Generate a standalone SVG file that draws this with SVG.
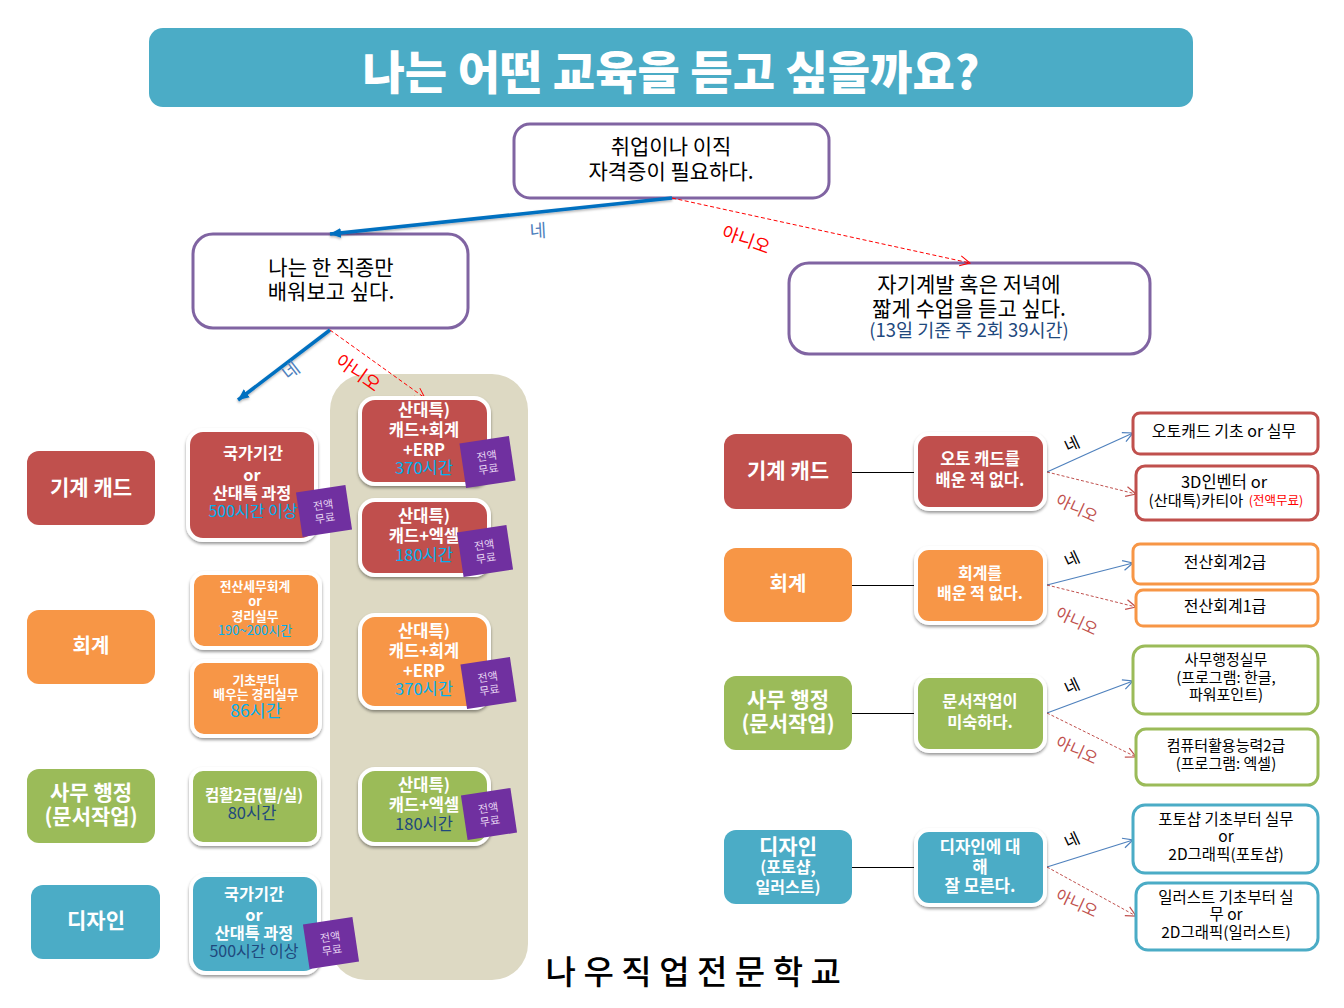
<svg xmlns="http://www.w3.org/2000/svg" width="1344" height="1008" viewBox="0 0 1344 1008">
<style>
text{font-family:"Noto Sans CJK KR","Noto Sans",sans-serif;text-anchor:middle}
.w{fill:#fff;font-weight:700}
.k{fill:#000;font-weight:400}
.sky{fill:#00B0F0;font-weight:400}
.navy{fill:#1F497D;font-weight:400}
.card{stroke:#fff;stroke-width:4;filter:url(#sh)}
.red{fill:#C0504D}.org{fill:#F79646}.grn{fill:#9BBB59}.blu{fill:#4BACC6}
.q{fill:#fff;stroke:#8064A2;stroke-width:3}
.res{fill:#fff;stroke-width:3}
.badge{fill:#7030A0}
.bt{fill:#E6D5F2;font-size:11px;font-weight:400}
.yes{stroke:#4F81BD;stroke-width:1.2;fill:none;marker-end:url(#oa-b)}
.no{stroke:#C0504D;stroke-width:1;stroke-dasharray:3 2;fill:none;marker-end:url(#oa-r)}
.thick{stroke:#0070C0;stroke-width:3.5;fill:none;marker-end:url(#fa);filter:url(#sl)}
.rd{stroke:#FF0000;stroke-width:1;stroke-dasharray:4 2.5;fill:none;marker-end:url(#oa-rr)}
.lk{stroke:#000;stroke-width:1;fill:none}
</style>
<defs>
<filter id="sh" x="-10%" y="-10%" width="120%" height="125%"><feDropShadow dx="0" dy="2" stdDeviation="1.5" flood-color="#000" flood-opacity=".4"/></filter>
<filter id="sl" x="-10%" y="-30%" width="120%" height="160%"><feDropShadow dx="0" dy="1.5" stdDeviation="1" flood-color="#000" flood-opacity=".3"/></filter>
<marker id="oa-b" markerUnits="userSpaceOnUse" markerWidth="14" markerHeight="14" refX="11" refY="6" orient="auto"><path d="M1 1L11 6L1 11" fill="none" stroke="#4F81BD" stroke-width="1.2"/></marker>
<marker id="oa-r" markerUnits="userSpaceOnUse" markerWidth="14" markerHeight="14" refX="11" refY="6" orient="auto"><path d="M1 1L11 6L1 11" fill="none" stroke="#C0504D" stroke-width="1.2"/></marker>
<marker id="oa-rr" markerUnits="userSpaceOnUse" markerWidth="14" markerHeight="14" refX="11" refY="6" orient="auto"><path d="M1 1L11 6L1 11" fill="none" stroke="#FF0000" stroke-width="1"/></marker>
<marker id="fa" markerUnits="userSpaceOnUse" markerWidth="14" markerHeight="12" refX="11" refY="5" orient="auto"><path d="M0 0L11 5L0 10Z" fill="#0070C0"/></marker>
</defs>

<rect id="panel" x="330" y="374" width="198" height="606" rx="36" fill="#DDD9C3"/>

<g id="title"><rect x="149" y="28" width="1044" height="79" rx="14" fill="#4BACC6"/>
<text x="671" y="89" class="w" style="font-weight:900" font-size="46">나는 어떤 교육을 듣고 싶을까요?</text></g>

<g id="q1"><rect class="q" x="514" y="124" width="315" height="74" rx="16"/>
<text class="k" font-size="21"><tspan x="671" y="154">취업이나 이직</tspan><tspan x="671" y="179">자격증이 필요하다.</tspan></text></g>
<g id="q2"><rect class="q" x="193" y="234" width="275" height="94" rx="20"/>
<text class="k" font-size="21"><tspan x="331" y="275">나는 한 직종만</tspan><tspan x="331" y="299">배워보고 싶다.</tspan></text></g>
<g id="q3"><rect class="q" x="789" y="263" width="361" height="91" rx="20"/>
<text class="k" font-size="21"><tspan x="969" y="292">자기계발 혹은 저녁에</tspan><tspan x="969" y="316">짧게 수업을 듣고 싶다.</tspan></text>
<text x="969" y="337" font-size="18.5" class="navy">(13일 기준 주 2회 39시간)</text></g>

<g id="connectors">
<line class="thick" x1="672" y1="198" x2="330" y2="234"/>
<line class="rd" x1="672" y1="198" x2="970" y2="263"/>
<line class="thick" x1="330" y1="330" x2="238" y2="400"/>
<line class="rd" x1="330" y1="330" x2="425" y2="398"/>
<line class="lk" x1="852" y1="472.5" x2="915" y2="472.5"/>
<line class="lk" x1="852" y1="585.5" x2="915" y2="585.5"/>
<line class="lk" x1="852" y1="713.5" x2="915" y2="713.5"/>
<line class="lk" x1="852" y1="867.5" x2="915" y2="867.5"/>
<line class="yes" x1="1047" y1="472" x2="1133" y2="433"/>
<line class="no" x1="1047" y1="472" x2="1136" y2="494"/>
<line class="yes" x1="1047" y1="585" x2="1133" y2="563"/>
<line class="no" x1="1047" y1="585" x2="1136" y2="607"/>
<line class="yes" x1="1047" y1="713" x2="1133" y2="681"/>
<line class="no" x1="1047" y1="713" x2="1136" y2="757"/>
<line class="yes" x1="1047" y1="867" x2="1133" y2="840"/>
<line class="no" x1="1047" y1="867" x2="1136" y2="916"/>
</g>

<g id="edge-labels">
<text x="538" y="237" font-size="18" fill="#4F81BD" transform="rotate(-3 538 231)">네</text>
<text x="746" y="246" font-size="18" fill="#FF0000" transform="rotate(20 746 240)">아니오</text>
<text x="291" y="377" font-size="18" fill="#4F81BD" transform="rotate(-38 291 371)">네</text>
<text x="358" y="379" font-size="18" fill="#FF0000" transform="rotate(35 358 373)">아니오</text>
<text x="1072" y="450" font-size="16" transform="rotate(-25 1072 444)">네</text>
<text x="1077" y="514" font-size="16" fill="#C0504D" transform="rotate(25 1077 508)">아니오</text>
<text x="1072" y="565" font-size="16" transform="rotate(-25 1072 559)">네</text>
<text x="1077" y="627" font-size="16" fill="#C0504D" transform="rotate(25 1077 621)">아니오</text>
<text x="1072" y="692" font-size="16" transform="rotate(-25 1072 686)">네</text>
<text x="1077" y="756" font-size="16" fill="#C0504D" transform="rotate(25 1077 750)">아니오</text>
<text x="1072" y="846" font-size="16" transform="rotate(-25 1072 840)">네</text>
<text x="1077" y="909" font-size="16" fill="#C0504D" transform="rotate(25 1077 903)">아니오</text>
</g>

<g id="cat-l1"><rect class="red" x="27" y="451" width="128" height="74" rx="12"/><text class="w" x="91" y="495" font-size="21">기계 캐드</text></g>
<g id="cat-l2"><rect class="org" x="27" y="610" width="128" height="74" rx="12"/><text class="w" x="91" y="653" font-size="20">회계</text></g>
<g id="cat-l3"><rect class="grn" x="27" y="769" width="128" height="74" rx="12"/><text class="w" font-size="21"><tspan x="91" y="800">사무 행정</tspan><tspan x="91" y="824">(문서작업)</tspan></text></g>
<g id="cat-l4"><rect class="blu" x="31" y="885" width="129" height="74" rx="12"/><text class="w" x="96" y="928" font-size="21">디자인</text></g>

<g id="c1"><rect class="card red" x="188" y="430" width="128" height="110" rx="15"/>
<text class="w" font-size="16.3"><tspan x="253" y="459">국가기간</tspan><tspan x="252" y="481">or</tspan><tspan x="252" y="499">산대특 과정</tspan></text><text class="sky" x="253" y="517" font-size="16">500시간 이상</text></g>
<g id="b1" transform="rotate(-8.5 324 511)"><rect class="badge" x="299" y="488.5" width="50" height="45"/><text class="bt"><tspan x="324" y="509">전액</tspan><tspan x="324" y="522">무료</tspan></text></g>

<g id="c2"><rect class="card org" x="192" y="573" width="128" height="75" rx="12"/>
<text class="w" font-size="12.8"><tspan x="255" y="591">전산세무회계</tspan><tspan x="255" y="606">or</tspan><tspan x="255" y="621">경리실무</tspan></text><text class="sky" x="255" y="635" font-size="13">190~200시간</text></g>
<g id="c3"><rect class="card org" x="192" y="661" width="128" height="75" rx="12"/>
<text class="w" font-size="12.8"><tspan x="256" y="685">기초부터</tspan><tspan x="256" y="699">배우는 경리실무</tspan></text><text class="sky" x="256" y="717" font-size="17.5">86시간</text></g>
<g id="c4"><rect class="card grn" x="191" y="769" width="128" height="75" rx="12"/>
<text class="w" x="254" y="801" font-size="15.5">컴활2급(필/실)</text><text class="navy" x="252" y="819" font-size="16.5">80시간</text></g>
<g id="c5"><rect class="card blu" x="191" y="875" width="128" height="98" rx="15"/>
<text class="w" font-size="16.3"><tspan x="254" y="900">국가기간</tspan><tspan x="254" y="921">or</tspan><tspan x="254" y="939">산대특 과정</tspan></text><text class="navy" x="254" y="957" font-size="16">500시간 이상</text></g>
<g id="b6" transform="rotate(-8.5 331 943)"><rect class="badge" x="306" y="920.5" width="50" height="45"/><text class="bt"><tspan x="331" y="941">전액</tspan><tspan x="331" y="954">무료</tspan></text></g>

<g id="c6"><rect class="card red" x="360" y="398" width="129" height="86" rx="15"/>
<text class="w" font-size="16.5"><tspan x="424" y="416">산대특)</tspan><tspan x="424" y="436">캐드+회계</tspan><tspan x="424" y="456">+ERP</tspan></text><text class="sky" x="424" y="474" font-size="16.5">370시간</text></g>
<g id="b2" transform="rotate(-8.5 487.5 462)"><rect class="badge" x="462.500" y="439.500" width="50" height="45"/><text class="bt"><tspan x="487.500" y="460">전액</tspan><tspan x="487.500" y="473">무료</tspan></text></g>
<g id="c7"><rect class="card red" x="360" y="500" width="129" height="75" rx="15"/>
<text class="w" font-size="16.5"><tspan x="424" y="522">산대특)</tspan><tspan x="424" y="542">캐드+엑셀</tspan></text><text class="sky" x="424" y="561" font-size="16.5">180시간</text></g>
<g id="b3" transform="rotate(-8.5 485 551)"><rect class="badge" x="460" y="528.500" width="50" height="45"/><text class="bt"><tspan x="485" y="549">전액</tspan><tspan x="485" y="562">무료</tspan></text></g>
<g id="c8"><rect class="card org" x="360" y="615" width="129" height="93" rx="15"/>
<text class="w" font-size="16.5"><tspan x="424" y="637">산대특)</tspan><tspan x="424" y="657">캐드+회계</tspan><tspan x="424" y="677">+ERP</tspan></text><text class="sky" x="424" y="695" font-size="16.5">370시간</text></g>
<g id="b4" transform="rotate(-8.5 488.5 683)"><rect class="badge" x="463.500" y="660.500" width="50" height="45"/><text class="bt"><tspan x="488.500" y="681">전액</tspan><tspan x="488.500" y="694">무료</tspan></text></g>
<g id="c9"><rect class="card grn" x="360" y="769" width="129" height="75" rx="15"/>
<text class="w" font-size="16.5"><tspan x="424" y="791">산대특)</tspan><tspan x="424" y="811">캐드+엑셀</tspan></text><text class="navy" x="424" y="830" font-size="16.5">180시간</text></g>
<g id="b5" transform="rotate(-8.5 489 814)"><rect class="badge" x="464" y="791.500" width="50" height="45"/><text class="bt"><tspan x="489" y="812">전액</tspan><tspan x="489" y="825">무료</tspan></text></g>

<g id="cat-r1"><rect class="red" x="724" y="434" width="128" height="75" rx="12"/><text class="w" x="788" y="478" font-size="21">기계 캐드</text></g>
<g id="cat-r2"><rect class="org" x="724" y="548" width="128" height="74" rx="12"/><text class="w" x="788" y="591" font-size="20">회계</text></g>
<g id="cat-r3"><rect class="grn" x="724" y="676" width="128" height="74" rx="12"/><text class="w" font-size="21"><tspan x="788" y="707">사무 행정</tspan><tspan x="788" y="731">(문서작업)</tspan></text></g>
<g id="cat-r4"><rect class="blu" x="724" y="830" width="128" height="74" rx="12"/><text class="w" x="788" y="854" font-size="21">디자인</text><text class="w" font-size="16"><tspan x="788" y="873">(포토샵,</tspan><tspan x="788" y="893">일러스트)</tspan></text></g>

<g id="m1"><rect class="card red" x="916" y="434" width="129" height="75" rx="13"/><text class="w" font-size="16.5"><tspan x="980" y="465">오토 캐드를</tspan><tspan x="980" y="486">배운 적 없다.</tspan></text></g>
<g id="m2"><rect class="card org" x="916" y="548" width="129" height="75" rx="13"/><text class="w" font-size="16"><tspan x="980" y="579">회계를</tspan><tspan x="980" y="599">배운 적 없다.</tspan></text></g>
<g id="m3"><rect class="card grn" x="916" y="676" width="129" height="75" rx="13"/><text class="w" font-size="16.4"><tspan x="980" y="707">문서작업이</tspan><tspan x="980" y="728">미숙하다.</tspan></text></g>
<g id="m4"><rect class="card blu" x="916" y="830" width="129" height="75" rx="13"/><text class="w" font-size="16.8"><tspan x="980" y="853">디자인에 대</tspan><tspan x="980" y="873">해</tspan><tspan x="980" y="892">잘 모른다.</tspan></text></g>

<g id="r1"><rect class="res" stroke="#C0504D" x="1133" y="413" width="185" height="41" rx="7"/><text class="k" x="1224" y="437" font-size="16">오토캐드 기초 or 실무</text></g>
<g id="r2"><rect class="res" stroke="#C0504D" x="1136" y="466" width="182" height="54" rx="9"/><text class="k" font-size="16.5" x="1224" y="488">3D인벤터 or</text><text class="k" font-size="15.3" x="1196" y="506">(산대특)카티아</text><text font-size="12.5" fill="#FF0000" x="1276" y="505">(전액무료)</text></g>
<g id="r3"><rect class="res" stroke="#F79646" x="1133" y="544" width="185" height="40" rx="7"/><text class="k" x="1225" y="568" font-size="16">전산회계2급</text></g>
<g id="r4"><rect class="res" stroke="#F79646" x="1136" y="590" width="182" height="36" rx="7"/><text class="k" x="1225" y="612" font-size="16">전산회계1급</text></g>
<g id="r5"><rect class="res" stroke="#9BBB59" x="1133" y="646" width="185" height="68" rx="12"/><text class="k" font-size="15"><tspan x="1226" y="665">사무행정실무</tspan><tspan x="1226" y="683">(프로그램: 한글,</tspan><tspan x="1226" y="700">파워포인트)</tspan></text></g>
<g id="r6"><rect class="res" stroke="#9BBB59" x="1136" y="729" width="182" height="56" rx="10"/><text class="k" font-size="15"><tspan x="1226" y="751">컴퓨터활용능력2급</tspan><tspan x="1226" y="769">(프로그램: 엑셀)</tspan></text></g>
<g id="r7"><rect class="res" stroke="#4BACC6" x="1133" y="805" width="185" height="68" rx="12"/><text class="k" font-size="15.5"><tspan x="1226" y="825">포토샵 기초부터 실무</tspan><tspan x="1226" y="842">or</tspan><tspan x="1226" y="860">2D그래픽(포토샵)</tspan></text></g>
<g id="r8"><rect class="res" stroke="#4BACC6" x="1136" y="883" width="182" height="67" rx="12"/><text class="k" font-size="15.5"><tspan x="1226" y="903">일러스트 기초부터 실</tspan><tspan x="1226" y="920">무 or</tspan><tspan x="1226" y="938">2D그래픽(일러스트)</tspan></text></g>

<text id="brand" x="697" y="984" font-size="33" font-weight="500" letter-spacing="7.5" fill="#000">나우직업전문학교</text>
</svg>
